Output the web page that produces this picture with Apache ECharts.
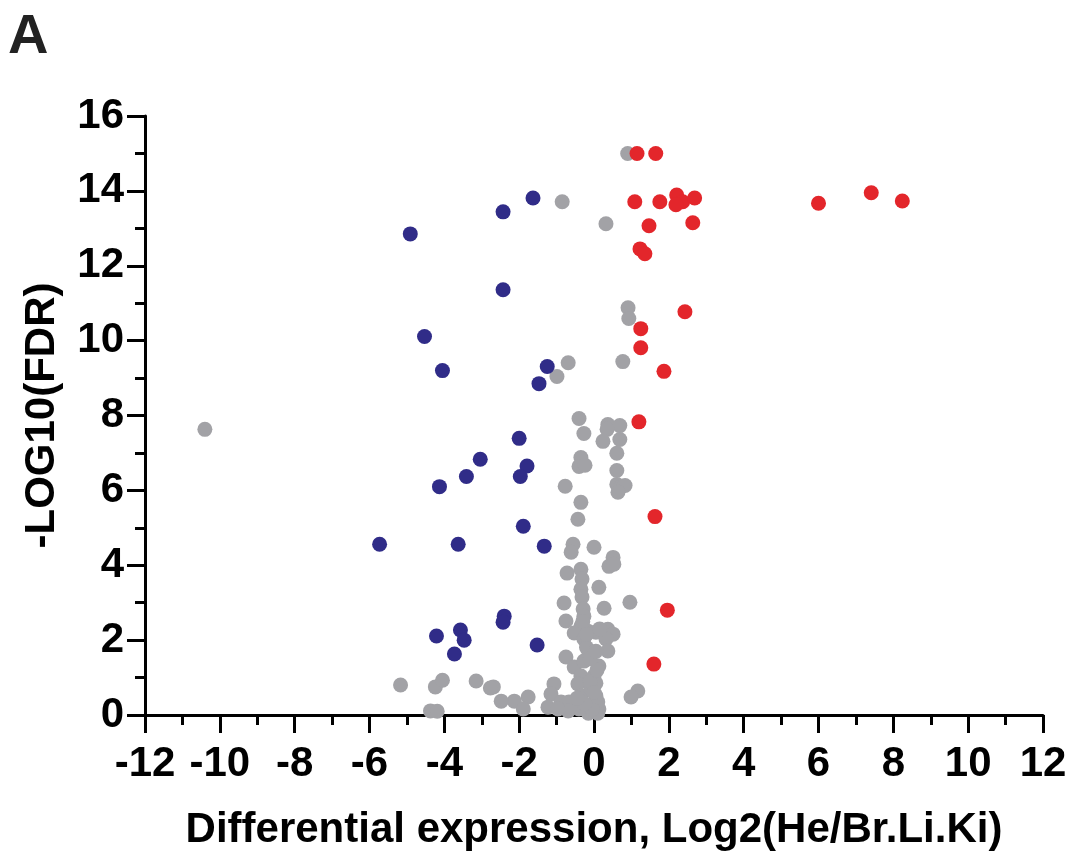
<!DOCTYPE html>
<html>
<head>
<meta charset="utf-8">
<script src="https://cdn.jsdelivr.net/npm/echarts@6/dist/echarts.min.js"></script>
<style>
  html, body { margin: 0; padding: 0; background: #fff; }
  #chart { width: 1076px; height: 856px; }
</style>
</head>
<body>
<div id="chart"></div>
<script>
// [log2 fold change, -log10 FDR]
const grayPoints = [
  [0.9, 15.0], [-0.85, 13.71], [0.32, 13.12], [0.91, 10.88], [0.93, 10.59],
  [-0.69, 9.41], [0.77, 9.44], [-0.99, 9.04], [-10.4, 7.63],
  [-0.4, 7.92], [0.37, 7.76], [0.69, 7.73], [0.35, 7.63], [-0.27, 7.52],
  [0.24, 7.31], [0.69, 7.36], [0.61, 6.99], [-0.35, 6.88], [-0.4, 6.64],
  [-0.24, 6.67], [0.61, 6.53], [-0.77, 6.11], [0.61, 6.16], [0.72, 6.1],
  [0.83, 6.13], [0.64, 5.95], [-0.35, 5.68], [-0.43, 5.23],
  [-0.56, 4.56], [-0.61, 4.35], [0.0, 4.48], [0.51, 4.21], [0.4, 3.97],
  [0.53, 4.03], [-0.72, 3.79], [-0.35, 3.89], [-0.32, 3.63], [-0.35, 3.36],
  [0.13, 3.41], [-0.32, 3.15], [-0.8, 2.99], [0.96, 3.01], [0.27, 2.85],
  [-0.29, 2.83], [-0.27, 2.64], [-0.75, 2.51], [-0.35, 2.37], [-0.53, 2.19],
  [-0.16, 2.24], [0.05, 2.21], [0.37, 2.29], [0.51, 2.16], [-0.27, 2.03],
  [0.32, 2.03], [0.37, 1.71], [-0.75, 1.55], [-0.13, 1.63], [-0.53, 1.28],
  [-0.27, 1.44], [0.13, 1.31], [0.0, 1.04], [-0.35, 1.04], [-0.43, 0.83],
  [-1.07, 0.83], [-1.15, 0.56], [-0.88, 0.35], [-0.67, 0.35], [-0.35, 0.51],
  [-0.08, 0.69], [0.05, 0.51], [-0.08, 0.24], [-0.4, 0.16], [-1.23, 0.21],
  [-1.76, 0.48], [-2.13, 0.37], [-1.89, 0.16], [-2.48, 0.37], [-2.69, 0.75],
  [1.17, 0.64], [0.99, 0.48], [0.13, 0.16], [-0.69, 0.11], [-0.96, 0.16],
  [-5.17, 0.8], [-4.24, 0.75], [-4.05, 0.93], [-3.15, 0.91], [-2.77, 0.72],
  [-4.37, 0.11], [-4.19, 0.1],
  [0.05, 0.85], [0.1, 0.35], [-0.15, 0.05], [0.1, 0.05], [-0.2, 1.8], [-0.3, 2.5],
  [-0.1, 0.9], [0.08, 1.2], [-0.05, 0.15], [0.0, 0.6], [-0.25, 0.3],
  [-0.45, 0.45], [-0.2, 2.15], [0.15, 2.3], [-0.1, 1.5], [0.05, 1.7]
];
const downPoints = [
  [-1.63, 13.81], [-2.43, 13.44], [-4.91, 12.85], [-2.43, 11.36], [-4.53, 10.11],
  [-4.05, 9.2], [-1.25, 9.31], [-1.47, 8.85], [-2.0, 7.39], [-3.04, 6.83],
  [-1.79, 6.65], [-3.41, 6.37], [-1.97, 6.37], [-4.13, 6.1], [-1.89, 5.04],
  [-5.73, 4.56], [-3.63, 4.56], [-1.33, 4.51], [-2.4, 2.64], [-2.43, 2.48],
  [-1.52, 1.87], [-4.21, 2.11], [-3.57, 2.27], [-3.47, 2.0], [-3.73, 1.63]
];
const upPoints = [
  [1.15, 15.0], [1.65, 15.0], [1.09, 13.71], [1.76, 13.71], [2.21, 13.89],
  [2.37, 13.71], [2.19, 13.63], [2.69, 13.81], [1.47, 13.07], [2.64, 13.15],
  [1.23, 12.45], [1.36, 12.32], [2.43, 10.77], [1.25, 10.32], [1.25, 9.81],
  [1.87, 9.18], [1.2, 7.83], [1.63, 5.3], [1.96, 2.8], [1.6, 1.36],
  [6.0, 13.67], [7.41, 13.95], [8.24, 13.73]
];

const font = "'Liberation Sans', Arial, sans-serif";
const axisCommon = {
  axisLine: { show: true, onZero: false, lineStyle: { color: "#000", width: 3 } },
  axisTick: { show: true, length: 18, lineStyle: { color: "#000", width: 3 } },
  minorTick: { show: true, splitNumber: 2, length: 10, lineStyle: { color: "#000", width: 3 } },
  splitLine: { show: false },
  axisLabel: { color: "#000", fontFamily: font, fontWeight: "bold", fontSize: 42 },
  nameTextStyle: { color: "#000", fontFamily: font, fontWeight: "bold", fontSize: 42 },
};

const chart = echarts.init(document.getElementById("chart"));
chart.setOption({
  animation: false,
  backgroundColor: "#fff",
  graphic: [
    {
      type: "text",
      left: 8,
      top: 10,
      style: { text: "A", fill: "#222", font: "bold 56px " + font },
    },
  ],
  grid: { left: 145, right: 33, top: 116, bottom: 140, containLabel: false },
  xAxis: {
    type: "value",
    min: -12,
    max: 12,
    interval: 2,
    name: "Differential expression, Log2(He/Br.Li.Ki)",
    nameLocation: "middle",
    nameGap: 94,
    ...axisCommon,
    axisLabel: { ...axisCommon.axisLabel, margin: 28 },
  },
  yAxis: {
    type: "value",
    min: 0,
    max: 16,
    interval: 2,
    name: "-LOG10(FDR)",
    nameLocation: "middle",
    nameGap: 82,
    nameRotate: 90,
    ...axisCommon,
    axisLabel: { ...axisCommon.axisLabel, margin: 21 },
  },
  series: [
    {
      type: "scatter",
      data: grayPoints,
      symbolSize: 15,
      itemStyle: { color: "#a2a2a6", opacity: 1 },
      z: 2,
    },
    {
      type: "scatter",
      data: downPoints,
      symbolSize: 15,
      itemStyle: { color: "#302c88", opacity: 1 },
      z: 3,
    },
    {
      type: "scatter",
      data: upPoints,
      symbolSize: 15,
      itemStyle: { color: "#e3262b", opacity: 1 },
      z: 4,
    },
  ],
});
</script>
</body>
</html>
